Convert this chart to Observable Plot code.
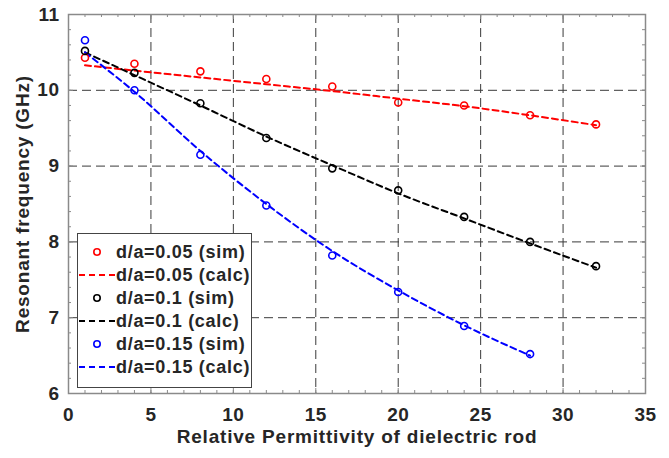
<!DOCTYPE html>
<html>
<head>
<meta charset="utf-8">
<script src="https://cdn.jsdelivr.net/npm/d3@7"></script>
<script src="https://cdn.jsdelivr.net/npm/@observablehq/plot@0.6"></script>
<style>
  html, body { margin: 0; padding: 0; background: #fff; }
  #wrap { position: relative; width: 669px; height: 458px; }
  #legend { position: absolute; left: 77px; top: 233px; }
</style>
</head>
<body>
<div id="wrap"><div id="chart"></div><div id="legend"></div></div>
<script>
// ---- Data ----
const permSim = [1, 4, 8, 12, 16, 20, 24, 28, 32];
const permSimBlue = [1, 4, 8, 12, 16, 20, 24, 28];

const sim005 = [10.43, 10.35, 10.25, 10.15, 10.05, 9.84, 9.80, 9.67, 9.55];
const calc005 = [10.33, 10.26, 10.17, 10.08, 9.99, 9.89, 9.79, 9.67, 9.54];

const sim010 = [10.52, 10.23, 9.83, 9.37, 8.97, 8.68, 8.33, 8.00, 7.68];
const calc010 = [10.50, 10.20, 9.80, 9.39, 9.01, 8.64, 8.31, 7.98, 7.66];

const sim015 = [10.66, 10.00, 9.15, 8.48, 7.82, 7.34, 6.89, 6.52];
const calc015 = [10.50, 9.98, 9.20, 8.50, 7.88, 7.36, 6.90, 6.50];

const seriesNames = ["d/a=0.05", "d/a=0.1", "d/a=0.15"];
const seriesColors = ["#ff0000", "#000000", "#0000ff"];

const xTicks = [0, 5, 10, 15, 20, 25, 30, 35];
const yTicks = [6, 7, 8, 9, 10, 11];
const xGrid = [5, 10, 15, 20, 25, 30];
const yGrid = [7, 8, 9, 10];

const xLabel = "Relative Permittivity of dielectric rod";
const yLabel = "Resonant frequency (GHz)";

// ---- Build tables ----
function table(xs, ys, name) { return xs.map((x, i) => ({x, y: ys[i], s: name})); }
const simSets = [table(permSim, sim005, seriesNames[0]), table(permSim, sim010, seriesNames[1]), table(permSimBlue, sim015, seriesNames[2])];
const calcSets = [table(permSim, calc005, seriesNames[0]), table(permSim, calc010, seriesNames[1]), table(permSimBlue, calc015, seriesNames[2])];

const W = 669, H = 458;
const mL = 68, mR = 24, mT = 14, mB = 65;
const innerW = W - mL - mR, innerH = H - mT - mB;

const xMinor = d3.range(0, 35.001, 1);
const yMinor = d3.range(6, 11.001, 0.2).map(v => +v.toFixed(1));

const font = "'Liberation Sans', Arial, sans-serif";
const frameColor = "#8a8a8a";
const textColor = "#262626";

const marks = [
  // grid
  Plot.ruleX(xGrid, {stroke: "#3a3a3a", strokeWidth: 1, strokeDasharray: "9,5"}),
  Plot.ruleY(yGrid, {stroke: "#3a3a3a", strokeWidth: 1, strokeDasharray: "9,5"}),
  // inward ticks (bottom / top)
  Plot.tickX(xMinor, {x: d => d, insetTop: innerH - 3, stroke: frameColor}),
  Plot.tickX(xMinor, {x: d => d, insetBottom: innerH - 3, stroke: frameColor}),
  Plot.tickX(xTicks, {x: d => d, insetTop: innerH - 5, stroke: frameColor}),
  Plot.tickX(xTicks, {x: d => d, insetBottom: innerH - 5, stroke: frameColor}),
  // inward ticks (left / right)
  Plot.tickY(yMinor, {y: d => d, insetRight: innerW - 3, stroke: frameColor}),
  Plot.tickY(yMinor, {y: d => d, insetLeft: innerW - 3, stroke: frameColor}),
  Plot.tickY(yTicks, {y: d => d, insetRight: innerW - 5, stroke: frameColor}),
  Plot.tickY(yTicks, {y: d => d, insetLeft: innerW - 5, stroke: frameColor}),
  Plot.frame({stroke: frameColor, strokeWidth: 1.5}),
  Plot.axisX({ticks: xTicks, tickSize: 0, tickPadding: 14, tickFormat: d3.format("d"), label: null}),
  Plot.axisY({ticks: yTicks, tickSize: 0, tickPadding: 9, tickFormat: d3.format("d"), label: null}),
  Plot.text([xLabel], {frameAnchor: "bottom", dy: 49, text: d => d, fontSize: 19, fontWeight: "bold", fill: textColor}),
  Plot.text([yLabel], {frameAnchor: "left", textAnchor: "middle", dx: -46, rotate: -90, text: d => d, fontSize: 19, fontWeight: "bold", fill: textColor})
];
calcSets.forEach((d, i) => {
  marks.push(Plot.line(d, {x: "x", y: "y", stroke: seriesColors[i], strokeWidth: 2, strokeDasharray: "6,4", curve: "monotone-x"}));
});
simSets.forEach((d, i) => {
  marks.push(Plot.dot(d, {x: "x", y: "y", stroke: seriesColors[i], strokeWidth: 1.6, r: 3.5, fill: "none"}));
});

const chart = Plot.plot({
  width: W, height: H,
  marginLeft: mL, marginRight: mR, marginTop: mT, marginBottom: mB,
  x: {domain: [0, 35]},
  y: {domain: [6, 11]},
  style: {fontFamily: font, background: "#fff", overflow: "visible"},
  marks
});
d3.select(chart).selectAll("g[aria-label='x-axis tick label'] text, g[aria-label='y-axis tick label'] text")
  .style("font-size", "19px").style("font-weight", "bold").style("fill", textColor).style("letter-spacing", "0.5px");
d3.select(chart).selectAll("g[aria-label='text'] text").style("letter-spacing", "0.8px");
document.getElementById("chart").appendChild(chart);

// ---- Legend ----
const lw = 175, lh = 155;
const svg = d3.select("#legend").append("svg").attr("width", lw).attr("height", lh)
  .style("font-family", font);
svg.append("rect").attr("x", 0.5).attr("y", 0.5).attr("width", lw - 1).attr("height", lh - 1)
  .attr("fill", "#fff").attr("stroke", "#444").attr("stroke-width", 1);
const entries = [];
seriesNames.forEach((n, i) => {
  entries.push({label: n + " (sim)", color: seriesColors[i], type: "dot"});
  entries.push({label: n + " (calc)", color: seriesColors[i], type: "line"});
});
entries.forEach((e, k) => {
  const cy = 19 + k * 23;
  if (e.type === "dot") {
    svg.append("circle").attr("cx", 20).attr("cy", cy).attr("r", 3.2)
      .attr("fill", "none").attr("stroke", e.color).attr("stroke-width", 1.6);
  } else {
    svg.append("line").attr("x1", 2).attr("x2", 38).attr("y1", cy).attr("y2", cy)
      .attr("stroke", e.color).attr("stroke-width", 2).attr("stroke-dasharray", "6,4");
  }
  svg.append("text").attr("x", 39).attr("y", cy).attr("dy", "0.36em")
    .attr("font-size", 18).attr("font-weight", "bold").attr("fill", textColor)
    .style("letter-spacing", "0.7px").text(e.label);
});
</script>
</body>
</html>
